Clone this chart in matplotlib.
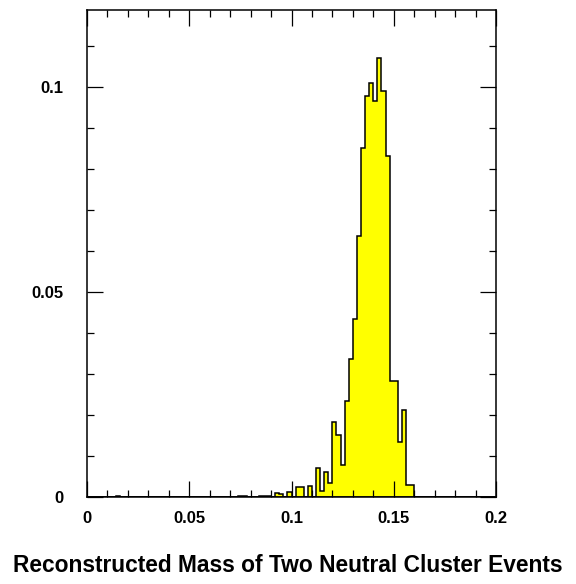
import numpy as np
import matplotlib
matplotlib.use("Agg")
import matplotlib.pyplot as plt
from matplotlib.ticker import MultipleLocator

plt.rcParams['font.family'] = ['Liberation Sans', 'DejaVu Sans']

# left edge of each non-empty bin (bin width 0.002) and its fraction of events
bin_left = [0.014, 0.074, 0.076, 0.084, 0.086, 0.088, 0.092, 0.094, 0.098,
            0.102, 0.104, 0.108, 0.112, 0.114, 0.116, 0.118, 0.120, 0.122,
            0.124, 0.126, 0.128, 0.130, 0.132, 0.134, 0.136, 0.138, 0.140,
            0.142, 0.144, 0.146, 0.148, 0.150, 0.152, 0.154, 0.156, 0.158]
fraction = [0.0002, 0.0002, 0.0002, 0.0002, 0.0002, 0.0002, 0.0010, 0.0007, 0.0013,
            0.0024, 0.0024, 0.0028, 0.0071, 0.0015, 0.0060, 0.0035, 0.0182, 0.0151,
            0.0077, 0.0235, 0.0337, 0.0434, 0.0637, 0.0852, 0.0978, 0.1011, 0.0966,
            0.1070, 0.0991, 0.0832, 0.0283, 0.0283, 0.0135, 0.0212, 0.0029, 0.0029]

x_ticks = [0, 0.05, 0.1, 0.15, 0.2]
x_labels = ["0", "0.05", "0.1", "0.15", "0.2"]
y_ticks = [0, 0.05, 0.1]
y_labels = ["0", "0.05", "0.1"]
title = "Reconstructed Mass of Two Neutral Cluster Events"

fig = plt.figure(figsize=(5.76, 5.84), dpi=100)
ax = fig.add_axes([87 / 576, 87 / 584, 409 / 576, 487 / 584])

edges = np.linspace(0, 0.2, 101)
centers = np.array(bin_left) + 0.001
ax.hist(centers, bins=edges, weights=fraction, histtype='stepfilled',
        facecolor='#ffff00', edgecolor='black', linewidth=1.1)

ax.set_xlim(0, 0.2)
ax.set_ylim(0, 0.1188)
ax.set_xticks(x_ticks)
ax.set_xticklabels(x_labels)
ax.set_yticks(y_ticks)
ax.set_yticklabels(y_labels)
ax.xaxis.set_minor_locator(MultipleLocator(0.01))
ax.yaxis.set_minor_locator(MultipleLocator(0.01))

ax.tick_params(which='both', direction='in', top=True, right=True, width=0.9)
ax.tick_params(which='major', length=11.5)
ax.tick_params(which='minor', length=5.3)
ax.tick_params(axis='x', which='major', pad=10)
ax.tick_params(axis='y', which='major', pad=17)
for lab in ax.get_xticklabels() + ax.get_yticklabels():
    lab.set_fontsize(12)
    lab.set_fontweight('bold')
for sp in ax.spines.values():
    sp.set_linewidth(1.1)

fig.text(0.5, (584 - 566) / 584, title, ha='center', va='center',
         fontsize=16.4, fontweight='bold')

fig.savefig("out.png", dpi=100)
